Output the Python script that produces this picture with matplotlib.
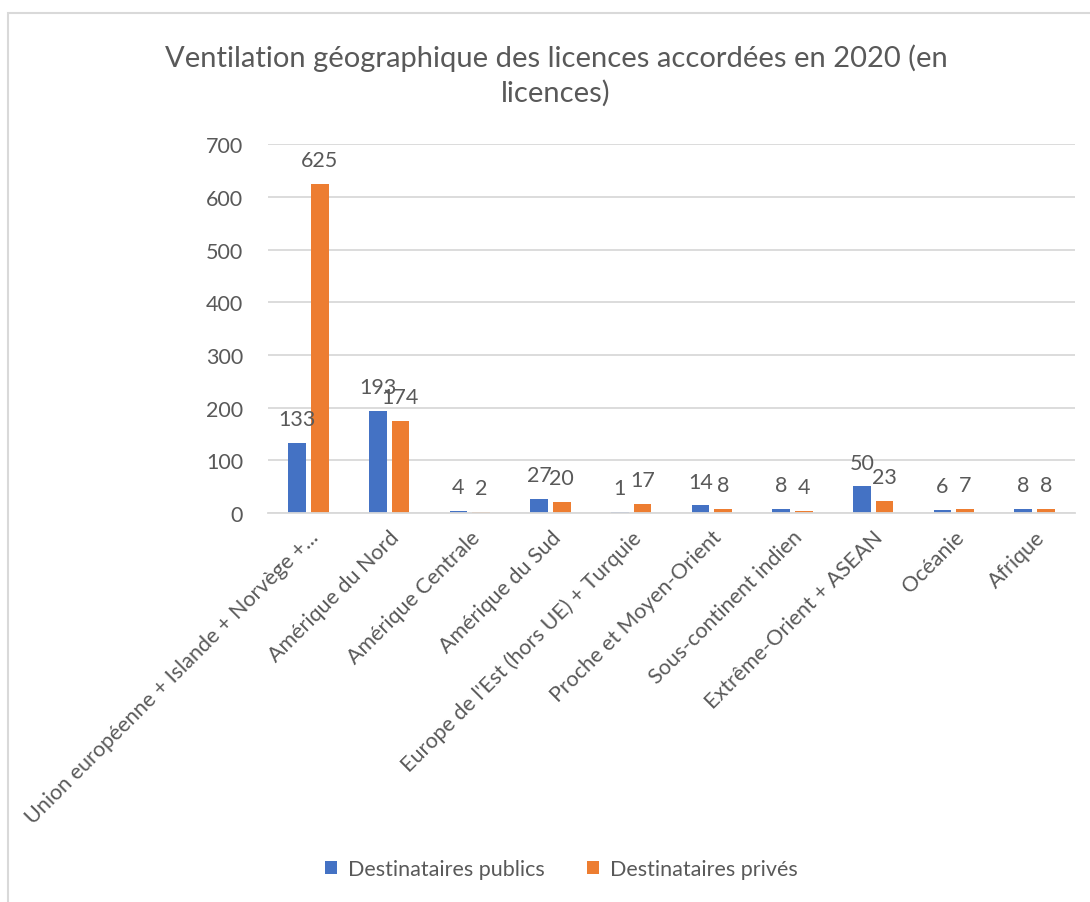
import matplotlib.pyplot as plt
import numpy as np
from matplotlib.patches import Rectangle

plt.rcParams['font.family'] = ['Lato', 'DejaVu Sans']

regions = ["Union européenne + Islande + Norvège +...", "Amérique du Nord", "Amérique Centrale",
           "Amérique du Sud", "Europe de l'Est (hors UE) + Turquie", "Proche et Moyen-Orient",
           "Sous-continent indien", "Extrême-Orient + ASEAN", "Océanie", "Afrique"]
publics = [133, 193, 4, 27, 1, 14, 8, 50, 6, 8]
prives = [625, 174, 2, 20, 17, 8, 4, 23, 7, 8]

blue = "#4472C4"
orange = "#ED7D31"
grey = "#595959"

fig = plt.figure(figsize=(10.9, 9.03), dpi=100)
# chart frame
fig.patches.append(Rectangle((8 / 1090, -0.05), 1.2, 1 - 14 / 903 + 0.05, transform=fig.transFigure,
                             fill=False, edgecolor="#d9d9d9", linewidth=1.5))

ax = fig.add_axes([0.246, 0.431, 0.74, 0.408])
x = np.arange(len(regions))
w = 0.22
b1 = ax.bar(x - 0.14, publics, w, color=blue, label="Destinataires publics")
b2 = ax.bar(x + 0.14, prives, w, color=orange, label="Destinataires privés")

for bars in (b1, b2):
    for bar in bars:
        h = bar.get_height()
        ax.annotate(str(int(h)), (bar.get_x() + bar.get_width() / 2, h), xytext=(0, 10),
                    textcoords="offset points", ha="center", va="bottom", fontsize=15.5, color=grey)

ax.set_ylim(0, 700)
ax.set_xlim(-0.5, len(regions) - 0.5)
ax.set_yticks(range(0, 701, 100))
ax.yaxis.grid(True, color="#d9d9d9", linewidth=1.3)
ax.set_axisbelow(True)
for s in ["top", "right", "left"]:
    ax.spines[s].set_visible(False)
ax.spines["bottom"].set_color("#d9d9d9")
ax.spines["bottom"].set_linewidth(1.3)
ax.tick_params(axis="y", length=0, labelsize=15.5, colors=grey, pad=18)
ax.tick_params(axis="x", length=0, labelsize=15.5, colors=grey, pad=10)
ax.set_xticks(x)
ax.set_xticklabels(regions, rotation=45, ha="right", rotation_mode="anchor")

fig.text(0.51, 0.916, "Ventilation géographique des licences accordées en 2020 (en\nlicences)",
         ha="center", va="center", fontsize=21, color=grey, linespacing=1.35)

fig.legend(loc="center", bbox_to_anchor=(0.515, 0.036), ncol=2, frameon=False, fontsize=15.5,
           labelcolor=grey, handlelength=0.55, handleheight=0.55, handletextpad=0.5, columnspacing=2.0)

plt.savefig("out.png", dpi=100)
